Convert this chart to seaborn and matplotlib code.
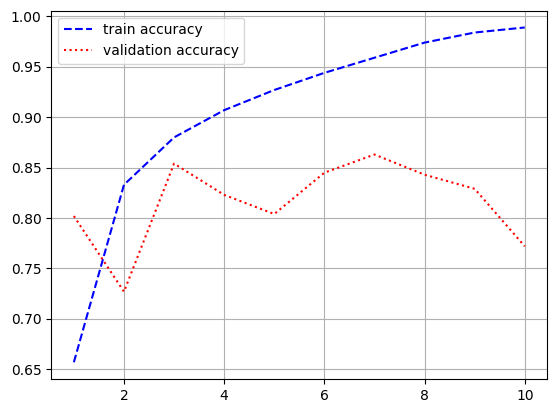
import matplotlib
matplotlib.use("Agg")
import matplotlib.pyplot as plt
import seaborn as sns

# accuracy per epoch
epochs = [1, 2, 3, 4, 5, 6, 7, 8, 9, 10]
train_acc = [0.657, 0.833, 0.880, 0.907, 0.927, 0.944, 0.959, 0.974, 0.984, 0.989]
val_acc = [0.802, 0.727, 0.854, 0.823, 0.804, 0.845, 0.863, 0.843, 0.829, 0.772]

fig, ax = plt.subplots(figsize=(5.56, 4.13), dpi=100)
fig.subplots_adjust(left=0.0923, right=0.9844, top=0.974, bottom=0.0823)

sns.lineplot(x=epochs, y=train_acc, color='blue', linestyle='--', label='train accuracy', ax=ax)
sns.lineplot(x=epochs, y=val_acc, color='red', linestyle=':', label='validation accuracy', ax=ax)

ax.grid(True)
ax.legend(loc='upper left')
fig.savefig('out.png', dpi=100)
